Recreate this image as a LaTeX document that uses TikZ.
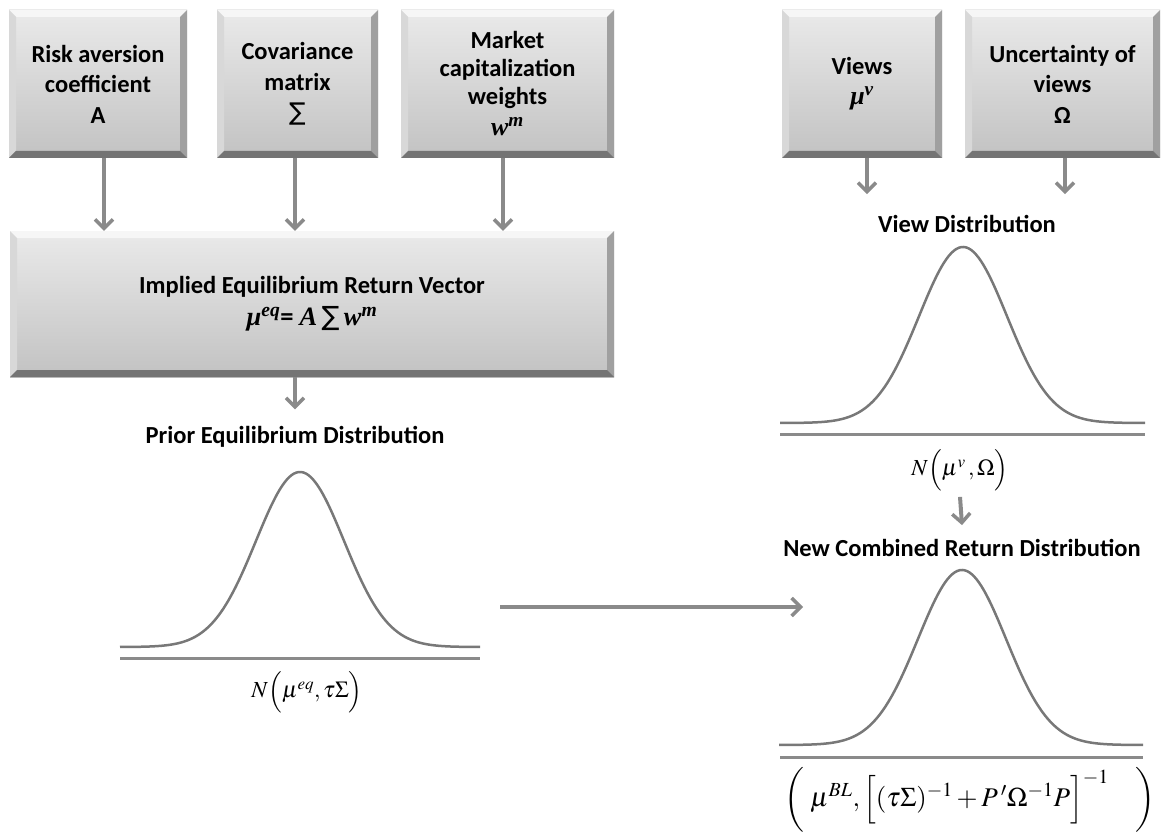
\documentclass[tikz,border=0pt]{standalone}
\usepackage{amsmath}
\usepackage{mathptmx}
\usepackage[no-math]{fontspec}
\setmainfont{Carlito}
\newfontfamily\serifbi{Liberation Serif}
\newfontfamily\symfont{DejaVu Sans}
\usetikzlibrary{arrows.meta}

\definecolor{boxtop}{HTML}{EAEAEA}
\definecolor{boxbot}{HTML}{C2C2C2}
\definecolor{bvtop}{HTML}{F6F6F6}
\definecolor{bvleft}{HTML}{D8D8D8}
\definecolor{bvright}{HTML}{A0A0A0}
\definecolor{bvbot}{HTML}{747474}
\definecolor{arrgray}{HTML}{8A8A8A}
\definecolor{curvegray}{HTML}{787878}

\newcommand{\bmit}[1]{{\serifbi\bfseries\itshape #1}}

\tikzset{
  bevelbox/.style={rectangle, inner sep=0pt, align=center, draw=none,
    top color=boxtop, bottom color=boxbot,
    path picture={
      \coordinate (pnw) at (path picture bounding box.north west);
      \coordinate (pne) at (path picture bounding box.north east);
      \coordinate (psw) at (path picture bounding box.south west);
      \coordinate (pse) at (path picture bounding box.south east);
      \fill[bvtop] (pnw) -- (pne) -- ([shift={(-7pt,-7pt)}]pne) -- ([shift={(7pt,-7pt)}]pnw) -- cycle;
      \fill[bvleft] (pnw) -- ([shift={(7pt,-7pt)}]pnw) -- ([shift={(7pt,7pt)}]psw) -- (psw) -- cycle;
      \fill[bvright] (pne) -- ([shift={(-7pt,-7pt)}]pne) -- ([shift={(-7pt,7pt)}]pse) -- (pse) -- cycle;
      \fill[bvbot] (psw) -- ([shift={(7pt,7pt)}]psw) -- ([shift={(-7pt,7pt)}]pse) -- (pse) -- cycle;
    }},
  label/.style={inner sep=2pt, font=\fontsize{24.5}{28}\selectfont\bfseries},
  formula/.style={inner sep=0pt, font=\fontsize{23}{27}\selectfont},
  arr/.style={draw=arrgray, line width=4pt, -{Straight Barb[length=9pt,width=18pt,line width=3.5pt]}},
  curve/.style={draw=curvegray, line width=2.5pt},
  axis/.style={draw=arrgray, line width=3pt}
}

\begin{document}
\begin{tikzpicture}[x=1pt, y=-1pt, font=\fontsize{24.5}{30.5}\selectfont\bfseries]
  \useasboundingbox (0,0) rectangle (1162,832);

  % input boxes
  \node[bevelbox, minimum width=178pt, minimum height=148pt] (risk) at (98,84)
    {\rule{0pt}{6pt}Risk aversion\\coefficient\\A};
  \node[bevelbox, minimum width=161pt, minimum height=148pt] (cov) at (297.5,84)
    {\rule{0pt}{6pt}Covariance\\matrix\\{\symfont\mdseries ∑}};
  \node[bevelbox, minimum width=213pt, minimum height=148pt, font=\fontsize{24.5}{28}\selectfont\bfseries] (mkt) at (507.5,84)
    {Market\\capitalization\\weights\\[3pt]{\fontsize{26}{26}\selectfont\bmit{w\textsuperscript{m}}}};
  \node[bevelbox, minimum width=160pt, minimum height=148pt, font=\fontsize{24.5}{28}\selectfont\bfseries] (views) at (862,84)
    {\rule{0pt}{8pt}Views\\[2pt]{\fontsize{26}{26}\selectfont\bmit{μ\textsuperscript{v}}}};
  \node[bevelbox, minimum width=195pt, minimum height=148pt] (unc) at (1062.5,84)
    {Uncertainty of\\views\\Ω};

  % equilibrium box
  \node[bevelbox, minimum width=604pt, minimum height=146pt, font=\fontsize{24.5}{28}\selectfont\bfseries] (eq) at (312,304)
    {Implied Equilibrium Return Vector\\[4pt]{\fontsize{26.5}{26.5}\selectfont\bmit{μ\textsuperscript{eq}}= \bmit{A}\,{\symfont\mdseries ∑}\,\bmit{w\textsuperscript{m}}}};

  % distribution titles
  \node[label] (prior) at (295,437) {Prior Equilibrium Distribution};
  \node[label] (vd) at (967,224) {View Distribution};
  \node[label] (nc) at (962,548) {New Combined Return Distribution};

  % arrow start points under the boxes
  \coordinate (r1) at ([xshift=6pt]risk.south);
  \coordinate (c1) at ([xshift=-2.5pt]cov.south);
  \coordinate (m1) at ([xshift=-4.5pt]mkt.south);
  \coordinate (v1) at ([xshift=5pt]views.south);
  \coordinate (u1) at ([xshift=2.5pt]unc.south);

  % arrows into the equilibrium box
  \draw[arr] (r1) -- (r1 |- eq.north);
  \draw[arr] (c1) -- (c1 |- eq.north);
  \draw[arr] (m1) -- (m1 |- eq.north);
  \draw[arr] (eq.south -| prior.north) -- ([yshift=15pt]prior.north);

  % arrows from the views boxes
  \draw[arr, shorten >=19pt] (v1) -- (v1 |- vd.north);
  \draw[arr, shorten >=19pt] (u1) -- (u1 |- vd.north);

  % prior distribution
  \draw[curve] plot[domain=-180:180, samples=150] ({300+\x}, {647-175*exp(-(\x/44)^2/2)});
  \draw[axis] (120,658) -- (480,658);
  \node[formula] (pf) at (307,692) {$N\Bigl(\mu^{eq},\tau\Sigma\Bigr)$};

  % view distribution
  \draw[curve] plot[domain=-183:182, samples=150] ({963+\x}, {423-176*exp(-(\x/44)^2/2)});
  \draw[axis] (780,434) -- (1145,434);
  \node[formula] (vf) at (960,470) {$N\Bigl(\mu^{v}\,,\Omega\Bigr)$};
  \draw[arr] ([yshift=-6pt]vf.south) -- ([yshift=12pt]nc.north);

  % combined distribution
  \draw[curve] plot[domain=-183:181, samples=150] ({962+\x}, {745-175*exp(-(\x/44)^2/2)});
  \draw[axis] (780,757) -- (1143,757);
  \node[formula, font=\fontsize{27}{31}\selectfont] (cf) at (970,800)
    {$\biggl(\;\mu^{BL},\Bigl[(\tau\Sigma)^{-1}+P\,'\Omega^{-1}P\Bigr]^{-1}\quad\biggr)$};

  % prior feeds the combined distribution
  \coordinate (hs) at (500,607);
  \coordinate (he) at (803,607);
  \draw[arr] (hs) -- (he);
\end{tikzpicture}
\end{document}
